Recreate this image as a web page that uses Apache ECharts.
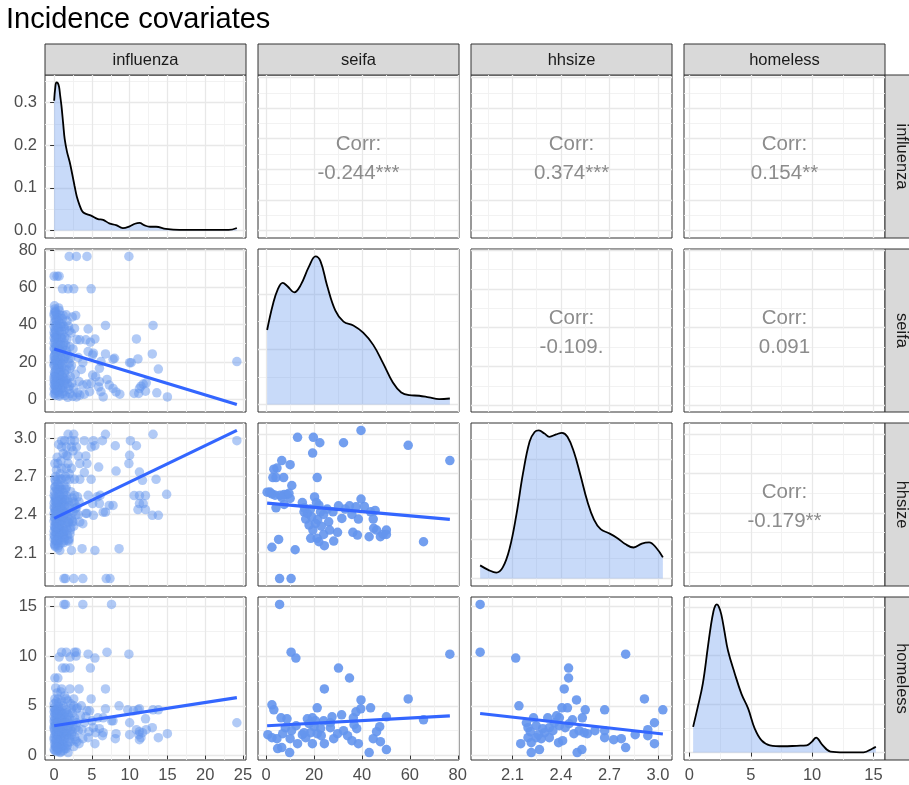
<!DOCTYPE html>
<html>
<head>
<meta charset="utf-8">
<script src="https://cdn.jsdelivr.net/npm/echarts@6/dist/echarts.min.js"></script>
<style>
  html, body { margin: 0; padding: 0; background: #fff; }
  #chart { width: 909px; height: 785px; }
</style>
</head>
<body>
<div id="chart"></div>
<script>
// ---- variables of the pairs matrix ----
const variables = ['influenza', 'seifa', 'hhsize', 'homeless'];

// ---- tick values per variable ----
const fluTicks = [0, 5, 10, 15, 20, 25];
const seifaTicks = [0, 20, 40, 60, 80];
const hhTicks = [2.1, 2.4, 2.7, 3.0];
const homeTicks = [0, 5, 10, 15];
// density axes of the diagonal panels
const fluDensTicks = [0, 0.1, 0.2, 0.3];
const seifaDensTicks = [0, 0.01, 0.02];
const hhDensTicks = [0, 0.5, 1.0, 1.5];
const homeDensTicks = [0, 0.1, 0.2, 0.3];

// ---- scatter data: [x, y] ----
// seifa vs influenza
const seifaFlu = [
  [2.0,76.7],[2.95,76.7],[4.35,76.7],[9.9,76.7],[0,66.1],[0.4,66.1],[0.66,66.1],[1.1,59.3],[1.85,59.3],[2.6,59.3],[4.9,59.3],
  [2.86,44.9],[4.5,37.7],[6.8,39.6],[13.1,39.6],[10.9,32.4],[5.4,32.4],[4.2,31.9],[3.4,31.9],[6.8,24.3],[8.0,22],[7.8,21.5],
  [10.0,19.6],[10.2,19.6],[11.1,21.6],[13.0,24.3],[13.8,16.2],[24.2,20.2],[6.2,20.2],[5.1,23.8],[6.0,16.6],[5.1,13],[5.5,12.1],
  [6.0,9.4],[7.0,10.6],[7.3,7.6],[5.9,6.6],[6.2,4.0],[6.5,1.2],[7.8,5.8],[8.2,3.9],[8.7,2.7],[10.6,3.1],[11.2,3.1],[11.5,7.0],
  [11.8,8.1],[12.2,8.8],[12.1,4.3],[13.6,3.4],[15.0,1.2],[11.3,5.8],[4.7,4.0],[4.0,2.7],[3.4,2.2],[2.95,1.2],[4.9,8.5],[4.35,8.1],
  [3.8,7.6],[3.6,16.0],[3.8,19.6],[4.5,25.6],[5.2,24.7],[4.8,30.6],
  [0.05,50.2],[0.1,48.5],[0.2,46.8],[0.0,44.9],[0.15,43.0],[0.05,41.2],[0.25,39.6],[0.1,37.7],[0.0,35.8],[0.2,33.9],[0.1,31.9],
  [0.0,30.2],[0.3,28.2],[0.05,26.8],[0.15,24.3],[0.0,22.7],[0.2,21.3],[0.1,19.6],[0.0,17.9],[0.25,16.2],[0.05,14.4],[0.15,12.4],
  [0.0,10.6],[0.2,8.7],[0.1,7.3],[0.0,5.6],[0.3,4.5],[0.1,3.2],
  [0.6,49.0],[0.8,45.2],[0.55,42.1],[0.9,39.0],[0.7,36.4],[0.6,31.5],[0.85,29.3],[0.65,27.0],[0.95,25.1],[0.55,21.0],[0.75,18.6],
  [0.6,17.2],[0.9,15.1],[0.7,13.1],[0.5,11.0],[0.8,9.1],[0.65,7.5],[0.9,5.2],[0.55,3.7],[0.75,2.4],
  [1.2,45.0],[1.05,40.5],[1.4,37.5],[1.15,34.8],[1.3,30.2],[1.1,27.5],[1.45,23.0],[1.25,20.6],[1.0,17.0],[1.35,14.0],[1.2,11.5],
  [1.4,8.0],[1.1,6.0],[1.3,4.1],[1.45,2.0],
  [1.6,45.3],[1.9,39.3],[1.7,32.3],[2.1,28.2],[1.8,24.0],[2.0,19.3],[1.65,15.8],[2.15,12.0],[1.75,8.4],[1.95,5.2],[2.1,3.0],[1.8,1.0],
  [2.4,44.2],[2.7,38.0],[3.0,32.0],[2.5,27.0],[3.2,22.4],[2.3,18.0],[2.8,13.4],[3.3,9.5],[2.6,6.0],[3.1,3.4],[2.45,1.5],
  [0.35,45.5],[0.45,38.6],[0.4,34.0],[0.3,24.8],[0.45,19.2],[0.35,9.8],[0.4,6.3],[0.2,2.0],[1.0,32.8],[0.95,22.0],[1.55,28.9],
  [1.5,10.2],[2.25,35.6],[2.2,22.1],[2.35,8.8],
  [0.1,47.2],[0.3,42.5],[0.0,39.0],[0.2,36.7],[0.05,34.8],[0.3,32.6],[0.15,29.3],[0.0,27.5],[0.25,25.6],[0.05,23.5],[0.3,20.4],
  [0.0,18.7],[0.2,15.3],[0.1,13.4],[0.3,11.6],[0.05,9.4],[0.25,6.6],[0.15,4.9],[0.0,2.6],
  [0.7,47.5],[0.5,43.8],[0.8,40.6],[0.6,37.9],[0.9,33.0],[0.5,30.0],[0.75,26.1],[0.6,23.0],[0.85,19.9],[0.5,16.1],[0.7,14.2],
  [0.9,10.3],[0.6,8.3],[0.8,6.4],[0.5,4.8],[0.7,1.6],
  [1.1,43.2],[1.3,39.1],[1.0,36.2],[1.4,33.1],[1.2,28.6],[1.0,25.4],[1.35,21.8],[1.1,18.8],[1.4,15.5],[1.05,12.7],[1.3,9.3],[1.15,3.0],
  [1.7,42.0],[2.0,36.8],[1.6,26.0],[1.9,21.6],[2.1,16.7],[1.7,10.9],[2.0,7.0],
  [0.0,46.0],[0.0,32.9],[0.0,20.9],[0.0,8.0],[0.0,12.0]
];
const seifaFluFit = [[0, 27.0], [24.2, -2.9]];

// hhsize vs influenza
const hhFlu = [
  [1.85,3.03],[2.6,3.03],[13.1,3.03],[6.8,3.03],[24.2,2.98],[1.0,2.98],[1.4,2.98],[2.2,2.98],[2.7,2.98],[4.0,2.98],[5.2,2.98],
  [6.4,2.98],[10.1,2.98],[10.9,2.94],[8.1,2.94],[4.9,2.93],[5.4,2.94],[1.0,2.93],[1.6,2.93],[2.3,2.93],[2.95,2.93],[1.6,2.865],
  [3.2,2.86],[4.2,2.86],[10.0,2.865],[0.1,2.8],[0.5,2.8],[1.85,2.8],[3.4,2.8],[4.35,2.8],[5.9,2.773],[9.9,2.8],[11.3,2.734],
  [8.2,2.742],[1.0,2.763],[1.6,2.763],[2.3,2.763],[4.0,2.73],
  [0.1,2.677],[0.5,2.677],[1.0,2.677],[1.6,2.677],[2.1,2.677],[2.7,2.677],[3.4,2.677],[4.9,2.677],[11.7,2.669],[13.5,2.677],
  [0.1,2.616],[0.75,2.616],[1.6,2.616],
  [4.5,2.552],[5.7,2.54],[6.1,2.552],[10.6,2.55],[11.3,2.55],[12.1,2.55],[14.9,2.56],[11.3,2.487],[11.8,2.487],[11.1,2.44],
  [12.1,2.44],[7.3,2.473],[7.8,2.473],[5.1,2.487],[6.0,2.487],[6.5,2.42],[6.8,2.42],[13.0,2.395],[13.8,2.395],[5.2,2.395],
  [4.2,2.41],[4.35,2.41],[3.4,2.343],[2.5,2.343],[1.85,2.343],[3.8,2.33],[2.1,2.25],[1.2,2.25],[1.85,2.2],[0.5,2.186],[0.75,2.12],
  [2.3,2.12],[3.7,2.134],[5.4,2.12],[8.6,2.134],
  [1.3,1.9],[1.5,1.9],[2.6,1.9],[3.8,1.9],[6.9,1.9],[7.4,1.9],
  [0.0,2.55],[0.2,2.53],[0.1,2.51],[0.0,2.49],[0.3,2.47],[0.05,2.45],[0.15,2.43],[0.0,2.41],[0.25,2.39],[0.1,2.37],[0.0,2.35],
  [0.2,2.33],[0.05,2.31],[0.15,2.29],[0.0,2.27],[0.3,2.25],[0.1,2.23],[0.0,2.21],[0.2,2.19],[0.05,2.17],[0.15,2.15],
  [0.6,2.56],[0.8,2.52],[0.55,2.48],[0.9,2.45],[0.7,2.42],[0.6,2.38],[0.85,2.35],[0.65,2.31],[0.95,2.28],[0.55,2.24],[0.75,2.2],
  [0.6,2.16],[0.9,2.52],[0.7,2.36],
  [1.2,2.55],[1.05,2.5],[1.4,2.47],[1.15,2.43],[1.3,2.4],[1.1,2.36],[1.45,2.33],[1.25,2.29],[1.0,2.26],[1.35,2.22],[1.2,2.18],[1.4,2.52],
  [1.6,2.55],[1.9,2.5],[1.7,2.46],[2.1,2.43],[1.8,2.39],[2.0,2.36],[1.65,2.31],[2.15,2.28],[1.75,2.24],[1.95,2.19],
  [2.4,2.53],[2.7,2.49],[3.0,2.46],[2.5,2.42],[3.2,2.4],[2.3,2.37],[2.8,2.45],[3.3,2.5],[2.6,2.31],[3.1,2.54],
  [0.35,2.6],[0.45,2.58],[0.4,2.34],[0.3,2.44],[0.45,2.28],[1.0,2.6],[1.5,2.6],[2.2,2.58],[0.2,2.7],[0.8,2.72],[0.4,2.85],
  [1.2,2.88],[0.6,2.95],[0.3,2.75],[1.3,2.63],
  [0.1,2.54],[0.25,2.5],[0.0,2.46],[0.2,2.42],[0.05,2.38],[0.3,2.34],[0.1,2.3],[0.25,2.26],[0.0,2.24],[0.2,2.2],[0.1,2.16],
  [0.3,2.52],[0.05,2.58],[0.15,2.62],
  [0.6,2.5],[0.8,2.46],[0.55,2.43],[0.9,2.39],[0.7,2.33],[0.6,2.29],[0.85,2.25],[0.65,2.22],[0.95,2.18],[0.5,2.14],[0.75,2.55],[0.7,2.6],
  [1.1,2.53],[1.3,2.49],[1.0,2.45],[1.4,2.41],[1.2,2.38],[1.05,2.32],[1.35,2.27],[1.15,2.24],[1.4,2.2],[1.25,2.57],
  [1.7,2.52],[2.0,2.47],[1.6,2.41],[1.9,2.34],[2.2,2.3],[1.7,2.28],[2.0,2.21],
  [2.5,2.5],[2.9,2.4],[2.4,2.35],[2.7,2.55],
  [0.4,2.4],[0.4,2.5],[0.45,2.2],[0.35,2.3],[0.2,2.66],[0.5,2.64],[0.9,2.68],[1.5,2.7],[2.0,2.72],[1.8,2.86],[0.9,2.82],[2.5,2.9]
];
const hhFluFit = [[0, 2.371], [24.2, 3.06]];

// homeless vs influenza
const homeFlu = [
  [1.3,15.2],[1.5,15.2],[3.8,15.2],[7.6,15.2],[1.0,10.4],[1.6,10.4],[2.7,10.4],[2.95,10.4],[4.5,10.2],[7.0,10.4],[9.9,10.2],
  [5.4,9.8],[0.66,9.9],[2.1,9.9],[2.9,10.0],[1.1,8.8],[1.5,8.8],[2.1,8.8],[4.8,8.8],[0.1,7.8],[0.5,7.8],[1.0,6.7],[2.1,6.7],
  [3.3,6.7],[6.8,6.7],[0.1,5.7],[0.5,5.7],[1.6,5.7],[2.6,5.7],[4.9,5.7],[8.6,5.0],[6.8,4.7],[4.7,4.5],[4.35,4.5],[3.6,5.0],
  [2.95,4.7],[2.3,4.7],[9.75,4.6],[11.1,4.6],[11.3,4.7],[13.1,4.6],[13.8,4.6],[10.5,4.5],[6.5,3.8],[5.8,3.8],[7.6,3.5],[7.8,3.5],
  [10.0,3.3],[12.1,3.7],[24.2,3.3],[4.0,3.3],[5.2,2.8],[6.0,2.7],[6.5,2.3],[6.4,2.0],[8.2,2.2],[8.1,1.7],[10.0,2.1],[10.9,2.6],
  [11.3,2.4],[11.7,2.3],[12.2,2.6],[11.5,1.8],[11.2,2.1],[13.0,2.8],[13.8,1.8],[15.0,2.2],[11.3,1.6],[5.4,1.2],[4.5,1.8],[3.8,1.7],
  [1.85,0.3],[1.6,0.7],
  [0.0,4.8],[0.2,4.5],[0.1,4.2],[0.0,3.9],[0.3,3.6],[0.05,3.3],[0.15,3.0],[0.0,2.7],[0.25,2.4],[0.1,2.1],[0.0,1.8],[0.2,1.5],
  [0.05,1.2],[0.15,0.9],[0.0,0.6],[0.3,0.4],[0.1,3.7],[0.0,2.9],
  [0.6,4.9],[0.8,4.4],[0.55,4.0],[0.9,3.6],[0.7,3.2],[0.6,2.8],[0.85,2.5],[0.65,2.2],[0.95,1.9],[0.55,1.5],[0.75,1.1],[0.6,0.7],[0.9,0.4],
  [1.2,5.0],[1.05,4.3],[1.4,3.9],[1.15,3.4],[1.3,3.0],[1.1,2.6],[1.45,2.3],[1.25,1.9],[1.0,1.4],[1.35,1.0],[1.2,0.5],
  [1.6,4.6],[1.9,4.1],[1.7,3.6],[2.1,3.2],[1.8,2.7],[2.0,2.3],[1.65,1.9],[2.15,1.4],[1.75,1.0],
  [2.4,4.3],[2.7,3.8],[3.0,3.3],[2.5,2.9],[3.2,2.5],[2.3,2.1],[2.8,1.6],[3.3,1.2],[2.6,0.9],[3.1,4.8],
  [0.35,4.7],[0.45,3.3],[0.4,2.0],[0.3,1.2],[1.0,5.5],[2.2,5.2],[0.4,6.3],[1.4,6.0],[3.5,4.0],[3.7,2.6],[4.2,3.9],[4.6,2.4],
  [5.0,3.5],[5.5,2.3],[0.8,0.3],
  [0.1,4.6],[0.3,4.1],[0.0,3.5],[0.2,3.2],[0.05,2.5],[0.25,2.2],[0.0,1.6],[0.2,1.0],[0.1,0.5],[0.3,2.9],[0.0,4.4],
  [0.6,4.6],[0.8,3.9],[0.55,3.4],[0.9,3.0],[0.7,2.6],[0.6,2.0],[0.85,1.6],[0.65,1.3],[0.95,0.9],[0.5,0.5],
  [1.1,4.7],[1.3,4.2],[1.0,3.7],[1.4,3.3],[1.2,2.8],[1.05,2.3],[1.35,1.7],[1.15,1.1],[1.4,0.7],
  [1.7,4.3],[2.0,3.8],[1.6,3.3],[1.9,2.9],[2.2,2.6],[1.7,2.2],[2.0,1.7],[1.8,1.3],
  [2.5,3.5],[2.9,2.8],[2.4,2.4],[2.7,1.9],[3.0,1.4],
  [0.4,4.2],[0.45,2.7],[0.35,1.6],[0.4,0.8],[0.0,5.2],[0.3,5.4],[0.6,5.3],[1.8,5.5],[2.6,5.0],[0.9,6.4],[0.2,6.8]
];
const homeFluFit = [[0, 3.0], [24.2, 5.83]];

// hhsize vs seifa
const seifaHh = [
  [39.6,3.03],[13.1,2.977],[19.7,2.977],[22.4,2.936],[32.3,2.936],[59.3,2.916],[76.7,2.80],[19.4,2.857],[6.5,2.80],[10.0,2.769],
  [3.2,2.734],[4.5,2.743],[2.8,2.670],[4.1,2.670],[7.3,2.670],[21.3,2.670],[10.7,2.610],[0.4,2.559],[2.4,2.546],[3.7,2.536],
  [5.9,2.536],[7.5,2.541],[8.7,2.541],[10.0,2.511],[20.2,2.523],[4.1,2.44],[7.5,2.465],[15.1,2.48],[21.0,2.48],[22.0,2.46],
  [15.8,2.409],[17.2,2.397],[22.7,2.409],[24.0,2.389],[27.9,2.409],[30.2,2.455],[31.6,2.359],[34.8,2.455],[37.5,2.447],[39.6,2.506],
  [35.8,2.389],[38.5,2.354],[43.6,2.409],[44.7,2.354],[16.5,2.354],[17.9,2.308],[20.6,2.321],[26.1,2.333],[18.6,2.207],[21.3,2.207],
  [22.0,2.181],[24.0,2.237],[24.3,2.151],[28.2,2.186],[29.8,2.253],[36.2,2.253],[38.1,2.232],[43.0,2.219],[44.9,2.283],[46.1,2.27],
  [47.7,2.219],[48.8,2.237],[50.2,2.27],[50.2,2.237],[5.2,2.199],[2.4,2.139],[12.1,2.12],[65.7,2.181],[5.6,1.9],[10.4,1.9],
  [16.0,2.44],[18.5,2.43],[19.0,2.37],[21.5,2.35],[23.0,2.30],[25.5,2.43],[33.0,2.43],[41.0,2.45],[45.5,2.42],[19.5,2.27],
  [26.5,2.27],[6.5,2.52],[1.5,2.56],[9.5,2.55]
];
const seifaHhFit = [[0.4, 2.475], [76.7, 2.351]];

// homeless vs seifa
const homeSeifa = [
  [5.6,15.2],[10.4,10.4],[12.4,9.8],[76.7,10.2],[30.2,8.8],[34.8,7.8],[24.3,6.7],[59.3,5.7],[39.6,5.6],[43.6,4.8],[39.5,4.7],
  [37.5,4.4],[21.3,4.8],[2.4,5.1],[3.2,4.6],[6.2,3.8],[8.7,3.7],[31.5,4.1],[50.2,3.9],[65.7,3.6],[17.2,3.7],[19.3,3.8],[20.6,3.5],
  [24.0,3.5],[26.8,3.3],[36.4,3.8],[36.7,3.1],[47.4,2.9],[46.1,2.4],[0.7,2.1],[2.4,1.8],[4.5,1.7],[6.9,2.2],[10.6,2.5],[10.0,1.7],
  [13.1,1.2],[15.1,2.1],[16.5,1.8],[18.6,2.3],[19.3,1.2],[21.3,2.2],[22.7,2.7],[24.3,1.2],[26.8,2.8],[28.2,1.7],[29.8,2.2],
  [32.3,2.5],[35.8,1.5],[38.5,1.2],[37.8,2.7],[44.7,1.7],[43.0,0.3],[47.7,1.4],[50.2,0.6],[4.8,0.7],[6.5,0.8],[9.8,0.3],
  [17.9,3.2],[15.8,2.3],[20.0,2.9],[23.0,2.0],[27.5,3.9],[12.5,3.0],[8.0,2.8],[34.0,2.0]
];
const homeSeifaFit = [[0.4, 3.0], [76.7, 4.0]];

// homeless vs hhsize
const homeHh = [
  [1.9,15.2],[1.9,10.4],[2.12,9.8],[2.80,10.2],[2.447,8.8],[2.447,7.8],[2.42,6.7],[2.916,5.7],[2.496,5.6],[2.14,5.0],[2.406,4.8],
  [2.44,4.8],[2.55,4.6],[2.67,4.6],[3.03,4.6],[2.978,3.3],[2.23,3.8],[2.318,3.8],[2.373,4.0],[2.471,3.6],[2.532,3.8],[2.186,3.3],
  [2.196,2.8],[2.247,3.0],[2.287,2.7],[2.328,2.8],[2.39,3.0],[2.426,2.8],[2.48,2.2],[2.512,2.5],[2.563,2.2],[2.61,2.5],[2.67,2.5],
  [2.67,1.8],[2.726,1.6],[2.773,1.7],[2.80,0.8],[2.859,2.1],[2.937,2.6],[2.937,2.0],[2.978,1.2],[2.151,1.2],[2.196,1.8],[2.216,0.3],
  [2.267,0.6],[2.216,1.3],[2.278,1.7],[2.328,1.8],[2.385,1.3],[2.41,1.5],[2.50,0.3],[2.529,0.6],[2.543,2.3],[2.39,3.8],[2.359,3.3],
  [2.298,2.3],[2.247,1.8],[2.21,2.4],[2.35,2.5],[2.45,3.2],[2.26,2.1]
];
const homeHhFit = [[1.9, 4.23], [3.03, 2.17]];

// ---- diagonal densities ----
const fluDensX = [0,0.15,0.3,0.5,0.66,0.8,0.97,1.2,1.4,1.7,2.07,2.4,2.7,3.0,3.4,3.7,4.0,4.9,5.8,6.5,7.3,8.2,9.1,10.0,10.7,11.3,12.0,12.7,13.5,14.8,16.6,19.2,23.1,24.2];
const fluDensY = [0.304,0.335,0.347,0.345,0.336,0.316,0.292,0.250,0.214,0.185,0.160,0.132,0.105,0.080,0.058,0.046,0.041,0.035,0.027,0.025,0.017,0.013,0.006,0.010,0.016,0.018,0.012,0.009,0.009,0.004,0.0015,0.0015,0.0015,0.006];
const seifaDensX = [0.4,2.8,4.8,6.9,8.9,11.7,14.4,17.9,20.6,22.7,25.4,28.9,32.3,36.4,40.5,44.7,48.8,52.9,56.4,59.8,63.9,68.0,72.2,76.7];
const seifaDensY = [0.0135,0.0181,0.0208,0.0220,0.0214,0.0203,0.0216,0.0250,0.0268,0.0259,0.0216,0.0170,0.0150,0.0143,0.0130,0.0108,0.0075,0.0040,0.0022,0.0017,0.0016,0.0013,0.0010,0.0011];
const hhDensX = [1.9,1.95,2.0,2.04,2.083,2.124,2.165,2.206,2.237,2.263,2.298,2.328,2.37,2.406,2.44,2.48,2.52,2.563,2.604,2.645,2.696,2.747,2.80,2.849,2.90,2.945,2.99,3.03];
const hhDensY = [0.166,0.11,0.075,0.14,0.384,0.80,1.32,1.72,1.84,1.86,1.82,1.78,1.81,1.83,1.78,1.59,1.30,0.97,0.74,0.62,0.57,0.51,0.43,0.39,0.44,0.455,0.384,0.266];
const homeDensX = [0.3,0.68,1.09,1.5,1.75,1.95,2.1,2.24,2.4,2.6,2.85,3.14,3.69,4.24,4.78,5.33,5.88,6.56,7.65,8.74,9.56,9.97,10.33,10.8,11.5,12.6,14.2,14.9,15.2];
const homeDensY = [0.053,0.094,0.142,0.217,0.262,0.290,0.302,0.305,0.300,0.284,0.250,0.210,0.163,0.121,0.091,0.049,0.025,0.015,0.013,0.014,0.015,0.022,0.031,0.017,0.002,0.0005,0.0005,0.008,0.012];

// ---- correlation labels (upper triangle) ----
const corrLabels = ['-0.244***', '0.374***', '0.154**', '-0.109.', '0.091', '-0.179**'];
const corrCells = [[0,1],[0,2],[0,3],[1,2],[1,3],[2,3]];

// ================= layout & styling =================
const FONT = '"Liberation Sans", Arial, Helvetica, sans-serif';
const L = { left: 45, top: 75, w: 201, h: 163, gx: 12, gy: 11, stripH: 31, stripW: 31 };
const BLUE = '#6495ED';
const FIT = '#3366FF';

const ext = arrs => {
  let lo = Infinity, hi = -Infinity;
  arrs.forEach(a => a.forEach(v => { if (v < lo) lo = v; if (v > hi) hi = v; }));
  return [lo, hi];
};
const expand = r => { const d = (r[1] - r[0]) * 0.05; return [r[0] - d, r[1] + d]; };
const col = (a, i) => a.map(p => p[i]);

// full data extent of each variable
const varExt = {
  influenza: ext([col(seifaFlu, 0), col(hhFlu, 0), col(homeFlu, 0)]),
  seifa: ext([col(seifaFlu, 1), col(seifaHh, 0), col(homeSeifa, 0)]),
  hhsize: ext([col(hhFlu, 1), col(seifaHh, 1), col(homeHh, 0)]),
  homeless: ext([col(homeFlu, 1), col(homeSeifa, 1), col(homeHh, 1)])
};
const varTicks = { influenza: fluTicks, seifa: seifaTicks, hhsize: hhTicks, homeless: homeTicks };
const varDec = { influenza: 0, seifa: 0, hhsize: 1, homeless: 0 };

const densities = [
  { x: fluDensX, y: fluDensY, ticks: fluDensTicks, dec: 1 },
  { x: seifaDensX, y: seifaDensY, ticks: seifaDensTicks, dec: 2 },
  { x: hhDensX, y: hhDensY, ticks: hhDensTicks, dec: 1 },
  { x: homeDensX, y: homeDensY, ticks: homeDensTicks, dec: 1 }
];

const scatterPanels = [
  { r: 1, c: 0, pts: seifaFlu, fit: seifaFluFit, alpha: 0.5 },
  { r: 2, c: 0, pts: hhFlu, fit: hhFluFit, alpha: 0.5 },
  { r: 3, c: 0, pts: homeFlu, fit: homeFluFit, alpha: 0.5 },
  { r: 2, c: 1, pts: seifaHh, fit: seifaHhFit, alpha: 0.9 },
  { r: 3, c: 1, pts: homeSeifa, fit: homeSeifaFit, alpha: 0.9 },
  { r: 3, c: 2, pts: homeHh, fit: homeHhFit, alpha: 0.9 }
];

// minor grid positions: midpoints between major ticks (one step beyond each end)
function minorOf(t) {
  const step = t[1] - t[0];
  const out = [t[0] - step / 2];
  for (let i = 0; i < t.length; i++) out.push(+(t[i] + step / 2).toFixed(6));
  return out;
}

const grids = [], xAxes = [], yAxes = [], series = [];

function axisPair(dim, gi, range, major, showLabels, dec) {
  const within = v => v >= range[0] - 1e-9 && v <= range[1] + 1e-9;
  const base = (vals, isMajor) => ({
    type: 'value', gridIndex: gi, min: range[0], max: range[1],
    position: dim === 'x' ? 'bottom' : 'left',
    axisLine: { show: false },
    axisTick: { show: isMajor && showLabels, customValues: vals, length: 4, lineStyle: { color: '#333', width: 1 } },
    axisLabel: {
      show: isMajor && showLabels, customValues: vals,
      formatter: v => Number(v).toFixed(dec),
      color: '#4d4d4d', fontSize: 16.5, fontFamily: FONT, margin: dim === 'x' ? 7 : 8
    },
    splitLine: { show: true, lineStyle: { color: isMajor ? '#e8e8e8' : '#f1f1f1', width: isMajor ? 1.3 : 0.9 } },
    minorTick: { show: false }, minorSplitLine: { show: false },
    silent: true
  });
  const list = dim === 'x' ? xAxes : yAxes;
  list.push(base(minorOf(major).filter(within), false));
  list.push(base(major.filter(within), true));
  return list.length - 1; // index of the major axis
}

function addPanel(r, c, xr, xTicks, xDec, yr, yTicks, yDec) {
  const gi = grids.length;
  grids.push({
    left: L.left + c * (L.w + L.gx), top: L.top + r * (L.h + L.gy), width: L.w, height: L.h,
    show: true, backgroundColor: '#fff', borderColor: '#333', borderWidth: 1,
    containLabel: false, outerBoundsMode: 'none'
  });
  const xi = axisPair('x', gi, xr, xTicks, r === 3, xDec);
  const yi = axisPair('y', gi, yr, yTicks, c === 0, yDec);
  return { xi, yi };
}

// diagonal density panels
densities.forEach((d, i) => {
  const v = variables[i];
  const xr = expand(varExt[v]);
  const yr = expand([0, Math.max(...d.y)]);
  const ax = addPanel(i, i, xr, varTicks[v], varDec[v], yr, d.ticks, d.dec);
  series.push({
    type: 'line', xAxisIndex: ax.xi, yAxisIndex: ax.yi,
    data: d.x.map((x, k) => [x, d.y[k]]),
    smooth: 0.4, symbol: 'none', silent: true,
    lineStyle: { color: '#000', width: 1.8 },
    areaStyle: { color: 'rgba(100,149,237,0.5)', origin: 'auto' },
    z: 3
  });
});

// lower triangle scatter panels with linear fits
scatterPanels.forEach(p => {
  const vx = variables[p.c], vy = variables[p.r];
  const xr = expand(varExt[vx]);
  const yr = expand(ext([col(p.pts, 1), col(p.fit, 1)]));
  const ax = addPanel(p.r, p.c, xr, varTicks[vx], varDec[vx], yr, varTicks[vy], varDec[vy]);
  series.push({
    type: 'scatter', xAxisIndex: ax.xi, yAxisIndex: ax.yi, data: p.pts,
    symbolSize: 9.5, silent: true, itemStyle: { color: BLUE, opacity: p.alpha }, z: 3
  });
  series.push({
    type: 'line', xAxisIndex: ax.xi, yAxisIndex: ax.yi, data: p.fit,
    symbol: 'none', silent: true, lineStyle: { color: FIT, width: 3.2 }, z: 4
  });
});

// upper triangle correlation panels
corrCells.forEach(([r, c], k) => {
  const vx = variables[c], vy = variables[r];
  const xr = expand(varExt[vx]);
  const yr = expand(varExt[vy]);
  const ax = addPanel(r, c, xr, varTicks[vx], varDec[vx], yr, varTicks[vy], varDec[vy]);
  series.push({
    type: 'scatter', xAxisIndex: ax.xi, yAxisIndex: ax.yi,
    data: [[(xr[0] + xr[1]) / 2, (yr[0] + yr[1]) / 2]],
    symbolSize: 1, silent: true, itemStyle: { color: 'transparent' },
    label: {
      show: true, position: 'inside', offset: [0, 2],
      formatter: 'Corr:\n' + corrLabels[k],
      fontSize: 20.5, lineHeight: 29, color: '#6f6f6f', fontFamily: FONT
    },
    z: 5
  });
});

// facet strips
const graphics = [];
variables.forEach((v, i) => {
  const x0 = L.left + i * (L.w + L.gx);
  graphics.push({
    type: 'rect', shape: { x: x0, y: L.top - L.stripH, width: L.w, height: L.stripH },
    style: { fill: '#d9d9d9', stroke: '#333', lineWidth: 1 }, silent: true
  });
  graphics.push({
    type: 'text', x: x0 + L.w / 2, y: L.top - L.stripH / 2 + 1,
    style: { text: v, fill: '#1a1a1a', font: '16.5px ' + FONT, align: 'center', verticalAlign: 'middle' }, silent: true
  });
  const y0 = L.top + i * (L.h + L.gy);
  const xs = L.left + 4 * L.w + 3 * L.gx;
  graphics.push({
    type: 'rect', shape: { x: xs, y: y0, width: L.stripW, height: L.h },
    style: { fill: '#d9d9d9', stroke: '#333', lineWidth: 1 }, silent: true
  });
  graphics.push({
    type: 'text', x: xs + L.stripW / 2 + 1, y: y0 + L.h / 2, rotation: -Math.PI / 2,
    style: { text: v, fill: '#1a1a1a', font: '16.5px ' + FONT, align: 'center', verticalAlign: 'middle' }, silent: true
  });
});

const chart = echarts.init(document.getElementById('chart'), null, { renderer: 'canvas' });
chart.setOption({
  animation: false,
  backgroundColor: '#fff',
  title: {
    text: 'Incidence covariates', left: 6, top: 5, padding: 0,
    textStyle: { fontSize: 29, fontWeight: 'normal', color: '#000', fontFamily: FONT }
  },
  grid: grids,
  xAxis: xAxes,
  yAxis: yAxes,
  series: series,
  graphic: graphics
});
</script>
</body>
</html>
